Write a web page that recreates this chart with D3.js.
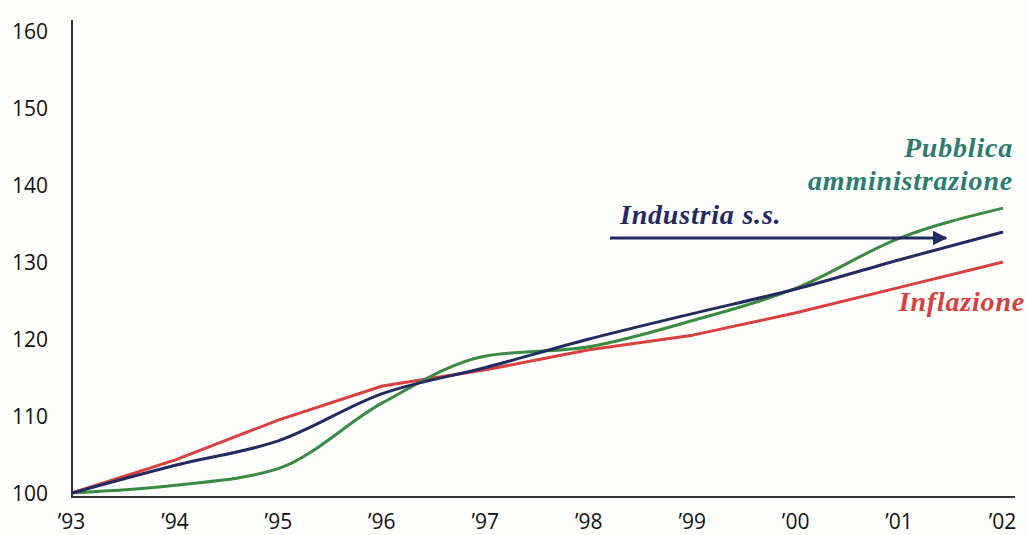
<!DOCTYPE html>
<html lang="it">
<head>
  <meta charset="utf-8">
  <title>Retribuzioni e inflazione 1993-2002</title>
  <script src="https://cdn.jsdelivr.net/npm/d3@7"></script>
  <style>
    body { margin: 0; background: #fefefc; overflow: hidden; }
    .tick text { font: 21px 'Open Sans', 'DejaVu Sans', sans-serif; fill: #111; }
    .lbl { font: italic bold 28px 'Liberation Serif', 'Times New Roman', serif; letter-spacing: 0.8px; }
  </style>
</head>
<body>
  <svg id="chart" width="1027" height="535"></svg>
  <script>
    // anni e valori (indice 1993 = 100)
    const years = ["’93", "’94", "’95", "’96", "’97", "’98", "’99", "’00", "’01", "’02"];
    const inflazione = [100, 104.3, 109.5, 113.9, 116.0, 118.6, 120.5, 123.4, 126.7, 130.0];
    const industria = [100, 103.6, 106.8, 112.9, 116.3, 120.0, 123.3, 126.5, 130.3, 133.9];
    const pubblica  = [100, 101.0, 103.2, 111.7, 117.8, 119.0, 122.4, 126.6, 133.1, 137.0];
    const yTicks = [100, 110, 120, 130, 140, 150, 160];

    const svg = d3.select("#chart");
    const x = d3.scalePoint().domain(years).range([72, 1003]);
    const y = d3.scaleLinear().domain([100, 160]).range([493, 31]);

    // assi
    svg.append("line").attr("x1", 72).attr("x2", 72).attr("y1", 20).attr("y2", 497)
      .attr("stroke", "#333").attr("stroke-width", 2);
    svg.append("line").attr("x1", 71).attr("x2", 1015).attr("y1", 497).attr("y2", 497)
      .attr("stroke", "#333").attr("stroke-width", 2);

    svg.append("g").attr("transform", "translate(48,0)")
      .call(d3.axisLeft(y).tickValues(yTicks).tickSize(0).tickPadding(0))
      .call(g => g.select(".domain").remove())
      .call(g => g.selectAll("text").attr("dy", "0.35em"));

    svg.append("g").attr("transform", "translate(-1,513)")
      .call(d3.axisBottom(x).tickSize(0).tickPadding(0))
      .call(g => g.select(".domain").remove())
      .call(g => g.selectAll("text").attr("dy", "0.75em"));

    // linee
    const series = [
      { vals: inflazione, color: "#d8403f", curve: d3.curveLinear },
      { vals: pubblica, color: "#3b8a42", curve: d3.curveMonotoneX },
      { vals: industria, color: "#232a60", curve: d3.curveMonotoneX }
    ];
    for (const s of series) {
      const line = d3.line().x((d, i) => x(years[i])).y(d => y(d)).curve(s.curve);
      svg.append("path").attr("d", line(s.vals))
        .attr("fill", "none").attr("stroke", s.color).attr("stroke-width", 3)
        .attr("stroke-linejoin", "round");
    }

    // etichette
    svg.append("text").attr("class", "lbl").attr("x", 1013).attr("y", 157)
      .attr("text-anchor", "end").attr("fill", "#2c7c6e").text("Pubblica");
    svg.append("text").attr("class", "lbl").attr("x", 1013).attr("y", 190)
      .attr("text-anchor", "end").attr("fill", "#2c7c6e").text("amministrazione");
    svg.append("text").attr("class", "lbl").attr("x", 620).attr("y", 224)
      .attr("fill", "#232a60").text("Industria s.s.");
    svg.append("text").attr("class", "lbl").attr("x", 1025).attr("y", 311)
      .attr("text-anchor", "end").attr("fill", "#d8403f").text("Inflazione");

    // freccia
    svg.append("defs").append("marker").attr("id", "arr")
      .attr("viewBox", "0 0 10 10").attr("refX", 9).attr("refY", 5)
      .attr("markerWidth", 5).attr("markerHeight", 5).attr("orient", "auto")
      .append("path").attr("d", "M0,0L10,5L0,10z").attr("fill", "#232a60");
    svg.append("line").attr("x1", 610).attr("x2", 946).attr("y1", 238).attr("y2", 238)
      .attr("stroke", "#232a60").attr("stroke-width", 3).attr("marker-end", "url(#arr)");
  </script>
</body>
</html>
